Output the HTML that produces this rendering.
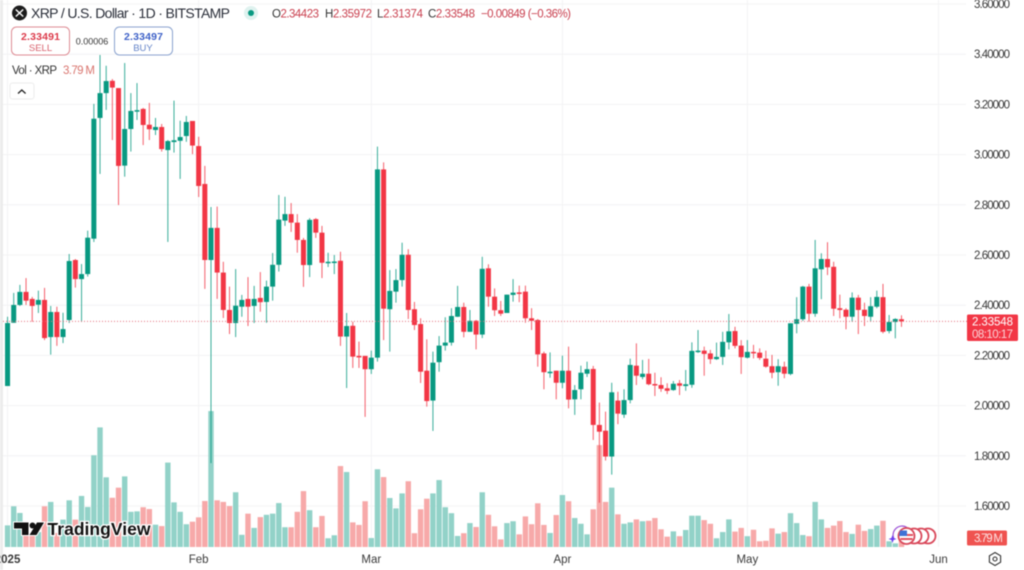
<!DOCTYPE html>
<html>
<head>
<meta charset="utf-8">
<title>XRP / U.S. Dollar 1D Chart</title>
<style>
html,body{margin:0;padding:0;background:#fff;width:1024px;height:570px;overflow:hidden}
svg{display:block;font-family:"Liberation Sans",sans-serif;filter:blur(0.4px)}
</style>
</head>
<body>
<svg id="chart" width="1024" height="570" viewBox="0 0 1024 570" xmlns="http://www.w3.org/2000/svg">
  <rect x="0" y="0" width="1024" height="570" fill="#ffffff"/>
  <g id="grid"></g>
  <g id="volumes"></g>
  <g id="candles"></g>
  <g id="priceLine"></g>
  <rect x="0" y="0" width="3" height="570" fill="#ececec"/>

  <g>
    <circle cx="19.5" cy="13" r="7.5" fill="#1c1c1c"/>
    <path d="M15.8 9.5L19.5 13L23.2 9.5M15.8 16.5L19.5 13L23.2 16.5" stroke="#fff" stroke-width="1.4" fill="none"/>
    <text x="31" y="18" font-size="14" fill="#2a2e39" textLength="199" lengthAdjust="spacing">XRP / U.S. Dollar · 1D · BITSTAMP</text>
    <circle cx="251" cy="13" r="7" fill="#dff2ef"/>
    <circle cx="251" cy="13" r="3" fill="#089981"/>
    <text x="272" y="17.5" font-size="11.5" fill="#c9404f" textLength="47"><tspan fill="#333">O</tspan>2.34423</text>
    <text x="325" y="17.5" font-size="11.5" fill="#c9404f" textLength="47"><tspan fill="#333">H</tspan>2.35972</text>
    <text x="377" y="17.5" font-size="11.5" fill="#c9404f" textLength="46"><tspan fill="#333">L</tspan>2.31374</text>
    <text x="428" y="17.5" font-size="11.5" fill="#c9404f" textLength="47"><tspan fill="#333">C</tspan>2.33548</text>
    <text x="481" y="17.5" font-size="11.5" fill="#c9404f" textLength="90">−0.00849 (−0.36%)</text>
  </g>

  <g>
    <rect x="11.5" y="27" width="58" height="28" rx="5" fill="#fff" stroke="#dd8c94"/>
    <text x="40.5" y="40" font-size="10.5" font-weight="bold" fill="#dc3b4b" text-anchor="middle" textLength="39">2.33491</text>
    <text x="40.5" y="51" font-size="9.5" fill="#d9626e" text-anchor="middle">SELL</text>
    <text x="92" y="44.5" font-size="9" fill="#333" text-anchor="middle">0.00006</text>
    <rect x="114.5" y="27" width="58" height="28" rx="5" fill="#fff" stroke="#8ba3cf"/>
    <text x="143.5" y="40" font-size="10.5" font-weight="bold" fill="#3f62c8" text-anchor="middle" textLength="39">2.33497</text>
    <text x="143" y="51" font-size="9.5" fill="#6484c8" text-anchor="middle">BUY</text>
  </g>

  <g>
    <text x="12" y="74" font-size="11.5" fill="#333" textLength="45">Vol · XRP</text>
    <text x="63" y="74" font-size="11.5" fill="#d9756f" textLength="32">3.79 M</text>
    <rect x="10" y="83" width="24" height="16" rx="2.5" fill="#fff" stroke="#ececec"/>
    <path d="M18 93.5L21.8 90L25.6 93.5" fill="none" stroke="#222" stroke-width="1.3"/>
  </g>

  <g>
    <path d="M14 522.5H28.5V535H22V528.5H14Z M37 522.5H44L36.5 535H29.5Z" fill="#111" stroke="#fff" stroke-width="2" paint-order="stroke"/>
    <circle cx="32.5" cy="525.5" r="3" fill="#111"/>
    <text x="47.5" y="535" font-size="17.5" font-weight="bold" fill="#111" stroke="#fff" stroke-width="2.5" paint-order="stroke" textLength="103">TradingView</text>
  </g>

  <g>
    <circle cx="928" cy="536" r="7.5" fill="#fff" stroke="#d9485a" stroke-width="1.8"/>
    <circle cx="921" cy="536" r="7.5" fill="#fff" stroke="#d9485a" stroke-width="1.8"/>
    <circle cx="914" cy="536" r="7.5" fill="#fff" stroke="#d9485a" stroke-width="1.8"/>
    <path d="M907 527.5A9 9 0 0 0 894 539" fill="none" stroke="#9a4fd6" stroke-width="1.2"/>
    <circle cx="906.5" cy="536" r="8" fill="#fff" stroke="#d9485a" stroke-width="1.8"/>
    <rect x="900" y="534" width="13" height="2" fill="#e25260"/>
    <rect x="900.5" y="538" width="12" height="2" fill="#e25260"/>
    <path d="M900 530.5H907V536H899Z" fill="#3f72d6"/>
    <path d="M892.5 535L893.6 538L896.5 539L893.6 540L892.5 543L891.4 540L888.5 539L891.4 538Z" fill="#6b3ff0"/>
  </g>

  <g id="yAxis"></g>
  <g id="xAxis"></g>

  <g>
    <rect x="967" y="314.5" width="51" height="26.5" rx="1.5" fill="#f23645"/>
    <text x="972" y="325.5" font-size="11.5" fill="#fff" textLength="41">2.33548</text>
    <text x="972" y="338" font-size="11.5" fill="#fbd3d6" textLength="41">08:10:17</text>
  </g>
  <g>
    <rect x="967" y="530.5" width="40" height="15" rx="1.5" fill="#ef5350"/>
    <text x="974" y="542" font-size="11.5" fill="#fde3e3" textLength="29">3.79 M</text>
  </g>
  <g>
    <path d="M995 552.5L1000.6 555.8V562.2L995 565.5L989.4 562.2V555.8Z" fill="none" stroke="#333" stroke-width="1.1"/>
    <circle cx="995" cy="559" r="2" fill="none" stroke="#333" stroke-width="1.1"/>
  </g>
</svg>

<script>
/* Daily XRP/USD candles from 2025-01-01 onward (index = days since Jan 1) */
const opens = [2.078,2.330,2.401,2.453,2.425,2.402,2.421,2.273,2.373,2.273,2.341,2.580,2.504,2.524,2.665,3.146,3.245,3.294,3.265,2.956,3.102,3.174,3.182,3.119,3.098,3.110,3.018,3.050,3.055,3.074,3.134,3.034,2.883,2.580,2.708,2.530,2.381,2.329,2.394,2.425,2.397,2.429,2.413,2.474,2.561,2.737,2.763,2.729,2.660,2.560,2.743,2.689,2.570,2.571,2.577,2.275,2.318,2.198,2.198,2.145,2.191,2.941,2.384,2.454,2.500,2.601,2.384,2.325,2.139,2.020,2.173,2.239,2.251,2.354,2.393,2.294,2.338,2.283,2.547,2.434,2.380,2.369,2.441,2.451,2.454,2.348,2.341,2.208,2.133,2.139,2.091,2.139,2.025,2.065,2.127,2.146,1.923,1.900,1.797,2.020,1.964,2.022,2.159,2.114,2.127,2.086,2.082,2.069,2.062,2.089,2.078,2.083,2.218,2.219,2.208,2.185,2.194,2.252,2.297,2.239,2.191,2.214,2.211,2.187,2.157,2.133,2.155,2.126,2.326,2.344,2.474,2.366,2.543,2.584,2.553,2.388,2.382,2.354,2.430,2.382,2.354,2.394,2.432,2.297,2.333,2.34423];
const highs = [2.354,2.449,2.481,2.508,2.433,2.458,2.469,2.397,2.394,2.370,2.604,2.584,2.564,2.697,3.202,3.397,3.354,3.301,3.265,3.365,3.245,3.285,3.186,3.206,3.146,3.122,3.058,3.215,3.135,3.154,3.134,3.071,2.955,2.791,2.793,2.573,2.474,2.544,2.441,2.512,2.477,2.532,2.498,2.608,2.839,2.832,2.807,2.763,2.668,2.747,2.747,2.716,2.609,2.600,2.613,2.369,2.334,2.255,2.198,2.219,3.032,2.969,2.540,2.544,2.649,2.623,2.413,2.348,2.264,2.215,2.277,2.352,2.388,2.477,2.410,2.381,2.341,2.593,2.563,2.467,2.417,2.442,2.504,2.478,2.478,2.388,2.345,2.215,2.212,2.139,2.199,2.235,2.082,2.159,2.175,2.158,2.012,1.976,2.091,2.055,2.065,2.187,2.248,2.182,2.186,2.131,2.113,2.089,2.098,2.102,2.142,2.252,2.301,2.235,2.222,2.251,2.294,2.365,2.314,2.261,2.261,2.242,2.228,2.219,2.202,2.185,2.175,2.328,2.432,2.477,2.485,2.660,2.607,2.651,2.573,2.442,2.388,2.451,2.441,2.410,2.432,2.458,2.485,2.361,2.348,2.35972];
const lows = [2.078,2.330,2.397,2.401,2.334,2.369,2.261,2.203,2.238,2.249,2.329,2.470,2.333,2.514,2.652,2.923,3.178,3.058,2.799,2.912,3.012,3.138,3.038,3.058,3.078,3.012,2.652,3.008,2.903,3.051,3.002,2.831,2.465,1.771,2.425,2.349,2.285,2.273,2.354,2.317,2.329,2.374,2.330,2.418,2.534,2.716,2.692,2.609,2.473,2.512,2.668,2.508,2.552,2.524,2.238,2.070,2.150,2.150,1.955,2.126,2.175,2.261,2.215,2.410,2.474,2.345,2.301,2.090,1.996,1.899,2.135,2.219,2.239,2.353,2.272,2.294,2.224,2.269,2.394,2.357,2.357,2.369,2.414,2.412,2.330,2.301,2.155,2.065,2.111,2.025,2.069,1.989,1.963,2.025,2.114,1.863,1.613,1.781,1.725,1.926,1.951,2.009,2.082,2.105,2.081,2.038,2.055,2.046,2.059,2.042,2.059,2.071,2.210,2.119,2.166,2.182,2.162,2.224,2.228,2.126,2.188,2.188,2.182,2.151,2.109,2.079,2.109,2.121,2.288,2.337,2.334,2.354,2.424,2.520,2.357,2.348,2.304,2.334,2.285,2.317,2.334,2.388,2.288,2.288,2.268,2.31374];
const closes = [2.329,2.401,2.453,2.418,2.397,2.421,2.269,2.373,2.273,2.305,2.576,2.504,2.524,2.669,3.143,3.245,3.293,3.267,2.955,3.102,3.174,3.177,3.118,3.101,3.110,3.022,3.054,3.057,3.070,3.130,3.036,2.875,2.580,2.708,2.530,2.381,2.329,2.398,2.421,2.394,2.425,2.412,2.474,2.561,2.741,2.763,2.729,2.660,2.560,2.740,2.689,2.569,2.573,2.574,2.275,2.317,2.195,2.195,2.145,2.191,2.941,2.386,2.457,2.500,2.601,2.381,2.321,2.135,2.018,2.171,2.239,2.251,2.357,2.393,2.294,2.338,2.283,2.545,2.434,2.380,2.366,2.442,2.450,2.449,2.348,2.338,2.204,2.133,2.135,2.091,2.139,2.024,2.062,2.131,2.145,1.923,1.896,1.797,2.053,1.968,2.022,2.162,2.119,2.127,2.085,2.083,2.067,2.059,2.087,2.079,2.085,2.218,2.219,2.206,2.185,2.194,2.254,2.296,2.238,2.193,2.214,2.211,2.190,2.155,2.131,2.157,2.127,2.328,2.344,2.474,2.366,2.547,2.584,2.551,2.386,2.381,2.354,2.430,2.381,2.357,2.396,2.433,2.294,2.333,2.345,2.33548];
const volumes = [9.4,17.7,14.8,6.5,6.1,6.5,17.7,19.6,6.1,11.9,20.3,11.9,22.2,17.4,39.9,52.0,30.3,21.4,25.8,30.7,15.3,15.5,17.3,16.5,9.7,9.1,36.7,19.4,15.3,9.9,11.0,12.9,20.0,59.1,20.3,19.6,17.8,23.8,5.3,14.5,8.3,13.0,14.0,14.5,19.1,8.6,8.6,15.3,24.3,16.0,8.6,13.5,3.8,5.1,35.2,32.6,10.7,9.6,19.9,3.9,33.8,30.4,21.3,16.8,23.3,28.6,6.0,16.4,21.0,23.3,29.1,17.3,14.7,4.8,6.0,10.4,8.7,23.8,14.0,9.0,3.3,10.4,11.2,5.5,13.3,9.9,19.0,9.6,6.1,13.9,22.6,19.9,12.6,10.1,5.5,16.4,44.3,19.6,25.8,14.2,10.1,10.7,12.0,11.2,11.4,12.6,7.7,4.5,6.8,4.7,7.4,13.6,13.6,11.7,10.1,3.8,6.5,12.0,6.7,8.3,4.7,7.5,2.5,2.7,8.1,5.8,6.5,14.7,10.4,5.2,4.7,19.6,12.0,8.3,9.3,11.3,6.5,5.7,9.7,7.0,7.8,9.3,11.4,2.5,1.6,3.79];
const priceTicks = [3.6,3.4,3.2,3.0,2.8,2.6,2.4,2.2,2.0,1.8,1.6];
const monthLabels = ["2025","Feb","Mar","Apr","May","Jun"];
const monthDays = [0,31,59,90,120,151];
const lastPrice = 2.33548;

const NS = "http://www.w3.org/2000/svg";
const UP = "#089981", DOWN = "#f23645", VOL_UP = "#92d2c8", VOL_DOWN = "#f7a9a9";
const xOf = function (day) { return 7.55 + 6.165 * day; };
const yOf = function (price) { return 506 - (price - 1.6) * 251; };
const vOf = function (vol) { return 547 - vol * 2.3; };

function make(parent, tag, attrs) {
  const el = document.createElementNS(NS, tag);
  for (const k in attrs) el.setAttribute(k, attrs[k]);
  parent.appendChild(el);
  return el;
}

const grid = document.getElementById("grid");
priceTicks.forEach(function (t) {
  const el = make(grid, "line", { x1: 3, x2: 966, y1: yOf(t), y2: yOf(t), stroke: "#f3f3f4", "stroke-width": 1 });
  
  
});
monthDays.forEach(function (d) {
  const el = make(grid, "line", { x1: xOf(d), x2: xOf(d), y1: 0, y2: 547, stroke: "#f3f3f4", "stroke-width": 1 });
  
  
});

const volG = document.getElementById("volumes");
volumes.forEach(function (v, i) {
  const up = closes[i] >= opens[i];
  const el = make(volG, "rect", { x: xOf(i) - 2.7, y: vOf(v), width: 5.4, height: 547 - vOf(v), fill: up ? VOL_UP : VOL_DOWN });
  
  
});

const candleG = document.getElementById("candles");
opens.forEach(function (o, i) {
  const c = closes[i];
  const color = c >= o ? UP : DOWN;
  const x = xOf(i);
  const wick = make(candleG, "line", { x1: x, x2: x, y1: yOf(highs[i]), y2: yOf(lows[i]), stroke: color, "stroke-width": 1, opacity: 0.8 });
  
  
  const top = yOf(Math.max(o, c));
  const h = Math.max(1.5, Math.abs(yOf(o) - yOf(c)));
  const body = make(candleG, "rect", { x: x - 2.5, y: top, width: 5, height: h, fill: color });
  
  
});

const pl = make(document.getElementById("priceLine"), "line", { x1: 3, x2: 967, y1: yOf(lastPrice), y2: yOf(lastPrice), stroke: "#e2707b", "stroke-width": 1, "stroke-dasharray": "1 2" });



const yAxis = document.getElementById("yAxis");
priceTicks.forEach(function (t) {
  const el = make(yAxis, "text", { x: 974, y: yOf(t) + 4, "font-size": 11.5, fill: "#3a3a3a", textLength: 36 });
  
  
  el.textContent = t.toFixed(5);
});

const xAxis = document.getElementById("xAxis");
monthLabels.forEach(function (m, i) {
  const el = make(xAxis, "text", { x: xOf(monthDays[i]), y: 563, "font-size": 11.5, fill: "#3a3a3a", "text-anchor": "middle", "font-weight": m === "2025" ? "bold" : "normal" });
  
  
  el.textContent = m;
});
</script>
</body>
</html>
